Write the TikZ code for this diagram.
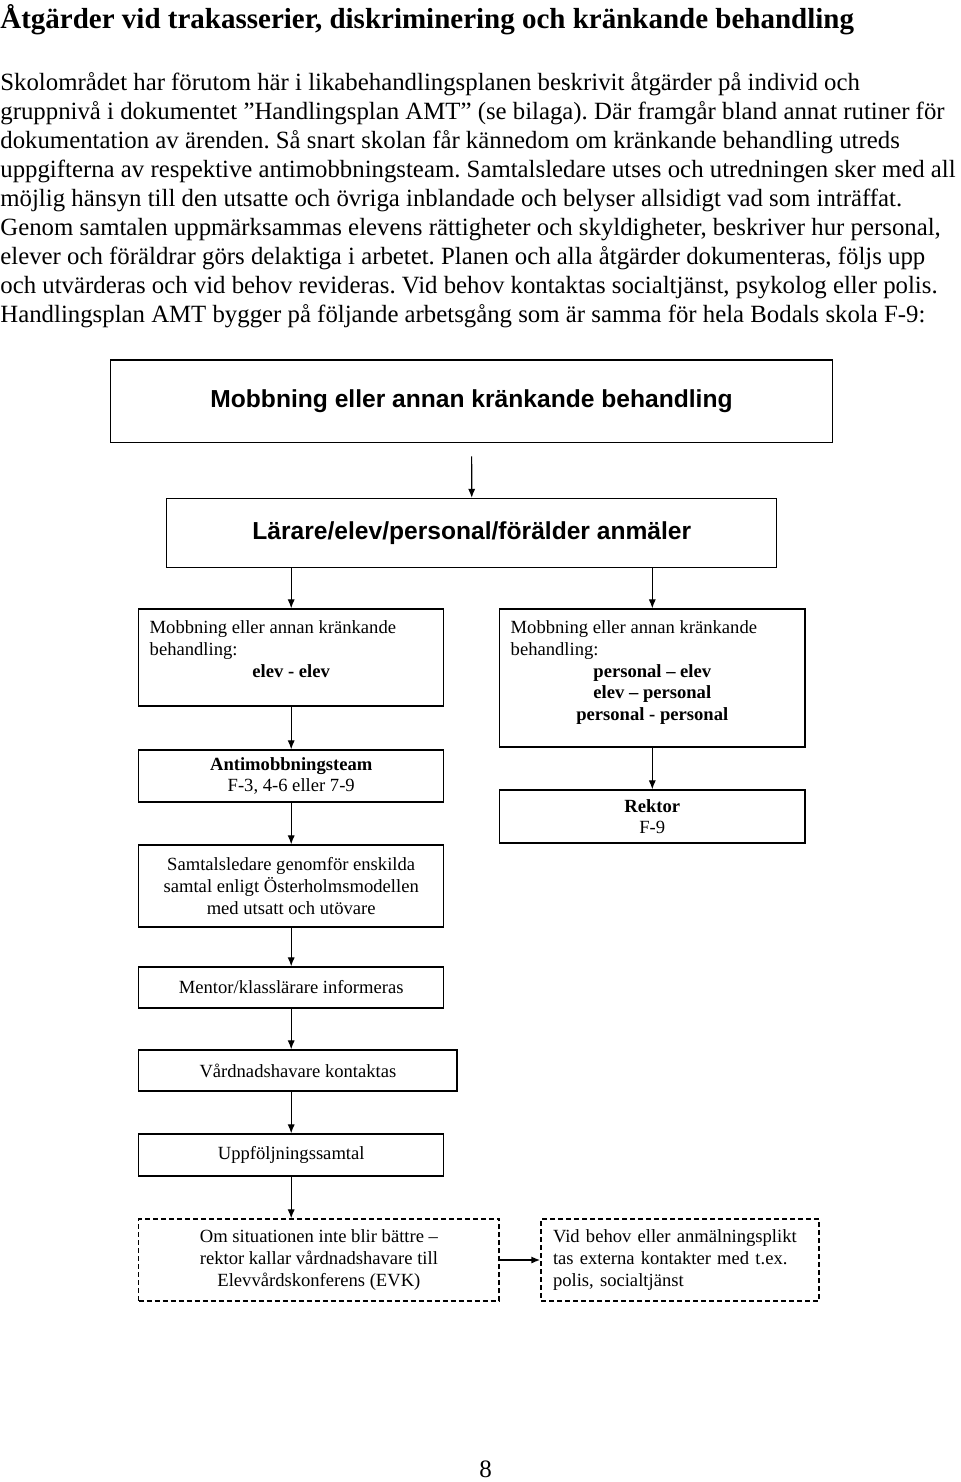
\documentclass[tikz,border=0pt]{standalone}
\usepackage{fontspec}
\setmainfont{Liberation Serif}
\newfontfamily\headfont{Liberation Sans}
\usepackage{tikz}
\usetikzlibrary{calc,arrows.meta}
\tikzset{>={Latex[length=4.5pt,width=3.6pt]}}

\newcommand{\boxfont}{\fontsize{9.3}{10.8}\selectfont}
\tikzset{
  box/.style={draw, line width=0.65pt, align=center, inner sep=0pt, font=\boxfont},
  dbox/.style={box, dash pattern=on 2.5pt off 1.5pt},
  headbox/.style={draw, line width=0.65pt, font={\headfont\bfseries\fontsize{12.3}{14}\selectfont}},
  arr/.style={->, line width=0.6pt},
}

\begin{document}
\frenchspacing
\begin{tikzpicture}[x=0.5pt, y=-0.5pt]
		\useasboundingbox (0,0) rectangle (960,1482);

		% Title and the text above the chart
		\node [anchor=west, inner sep=0pt, font={\bfseries\fontsize{14.5}{16}\selectfont}] (titel) at (0,20)
		  {Åtgärder vid trakasserier, diskriminering och kränkande behandling};
		\node [anchor=north west, inner sep=0pt, align=left, font={\fontsize{12.4}{14.5}\selectfont}] (brodtext) at (0,72)
		  {Skolområdet har förutom här i likabehandlingsplanen beskrivit åtgärder på individ och\\
		   gruppnivå i dokumentet ”Handlingsplan AMT” (se bilaga). Där framgår bland annat rutiner för\\
		   dokumentation av ärenden. Så snart skolan får kännedom om kränkande behandling utreds\\
		   uppgifterna av respektive antimobbningsteam. Samtalsledare utses och utredningen sker med all\\
		   möjlig hänsyn till den utsatte och övriga inblandade och belyser allsidigt vad som inträffat.\\
		   Genom samtalen uppmärksammas elevens rättigheter och skyldigheter, beskriver hur personal,\\
		   elever och föräldrar görs delaktiga i arbetet. Planen och alla åtgärder dokumenteras, följs upp\\
		   och utvärderas och vid behov revideras. Vid behov kontaktas socialtjänst, psykolog eller polis.\\
		   Handlingsplan AMT bygger på följande arbetsgång som är samma för hela Bodals skola F-9:};

		% The two top boxes
		\node [headbox, minimum width=360.8pt, minimum height=41.3pt] (mobb) at (471.5,401.3)
		  {Mobbning eller annan kränkande behandling};
		\node [headbox, minimum width=305pt, minimum height=34.5pt] (anm) at (471.8,533)
		  {Lärare/elev/personal/förälder anmäler};

		% Left column
		\node [box, inner xsep=5.5pt, inner ysep=6pt] (elev) at (291.2,657.5)
		  {\parbox[c][36.5pt][t]{141.5pt}{\raggedright Mobbning eller annan kränkande\\behandling:\par
		   \centerline{\bfseries elev - elev}}};
		\node [box, minimum width=152.5pt, minimum height=26pt] (amt) at (291.2,776)
		  {\bfseries Antimobbningsteam\\F-3, 4-6 eller 7-9};
		\node [box, minimum width=152.5pt, minimum height=41pt] (samtal) at (291.2,886)
		  {Samtalsledare genomför enskilda\\samtal enligt Österholmsmodellen\\med utsatt och utövare};
		\node [box, minimum width=152.5pt, minimum height=20.5pt] (mentor) at (291.2,987.5)
		  {Mentor/klasslärare informeras};
		\node [box, minimum width=159.2pt, minimum height=20.5pt] (vh) at (297.9,1070.5)
		  {Vårdnadshavare kontaktas};
		\node [box, minimum width=152.5pt, minimum height=21pt] (uppf) at (291.2,1155)
		  {Uppföljningssamtal};
		\node [dbox, minimum width=180.2pt, minimum height=41pt] (evk) at (318.9,1260)
		  {Om situationen inte blir bättre –\\rektor kallar vårdnadshavare till\\Elevvårdskonferens (EVK)};

		% Right column
		\node [box, inner xsep=5.5pt, inner ysep=6pt] (pers) at (652.3,678)
		  {\parbox[c][57pt][t]{141.6pt}{\raggedright Mobbning eller annan kränkande\\behandling:\par
		   \centerline{\bfseries personal – elev}
		   \centerline{\bfseries elev – personal}
		   \centerline{\bfseries personal - personal}}};
		\node [box, minimum width=152.6pt, minimum height=26.5pt] (rektor) at (652.3,816.5)
		  {\bfseries Rektor\\F-9};
		\node [dbox, align=left, inner xsep=6pt, text width=127pt, minimum height=41pt] (ext) at (680,1260)
		  {Vid behov eller anmälningsplikt\\tas externa kontakter med t.ex.\\polis, socialtjänst};

		% Arrows
		\draw [arr, shorten <=6.5pt] (mobb) -- (anm);
		\draw [arr] (anm.south -| elev.north) -- (elev.north);
		\draw [arr] (anm.south -| pers.north) -- (pers.north);
		\draw [arr] (pers) -- (rektor);
		\foreach \a/\b in {elev/amt, amt/samtal, samtal/mentor, mentor/vh, vh/uppf, uppf/evk} {
		  \draw [arr] (\a.south -| elev) -- (\b.north -| elev);
		}
		\draw [arr, line width=1pt] (evk) -- (ext);

		% Page number
		\node [inner sep=0pt, font={\fontsize{12.5}{14}\selectfont}] (sida) at (485.5,1469) {8};
	\end{tikzpicture}
\end{document}
